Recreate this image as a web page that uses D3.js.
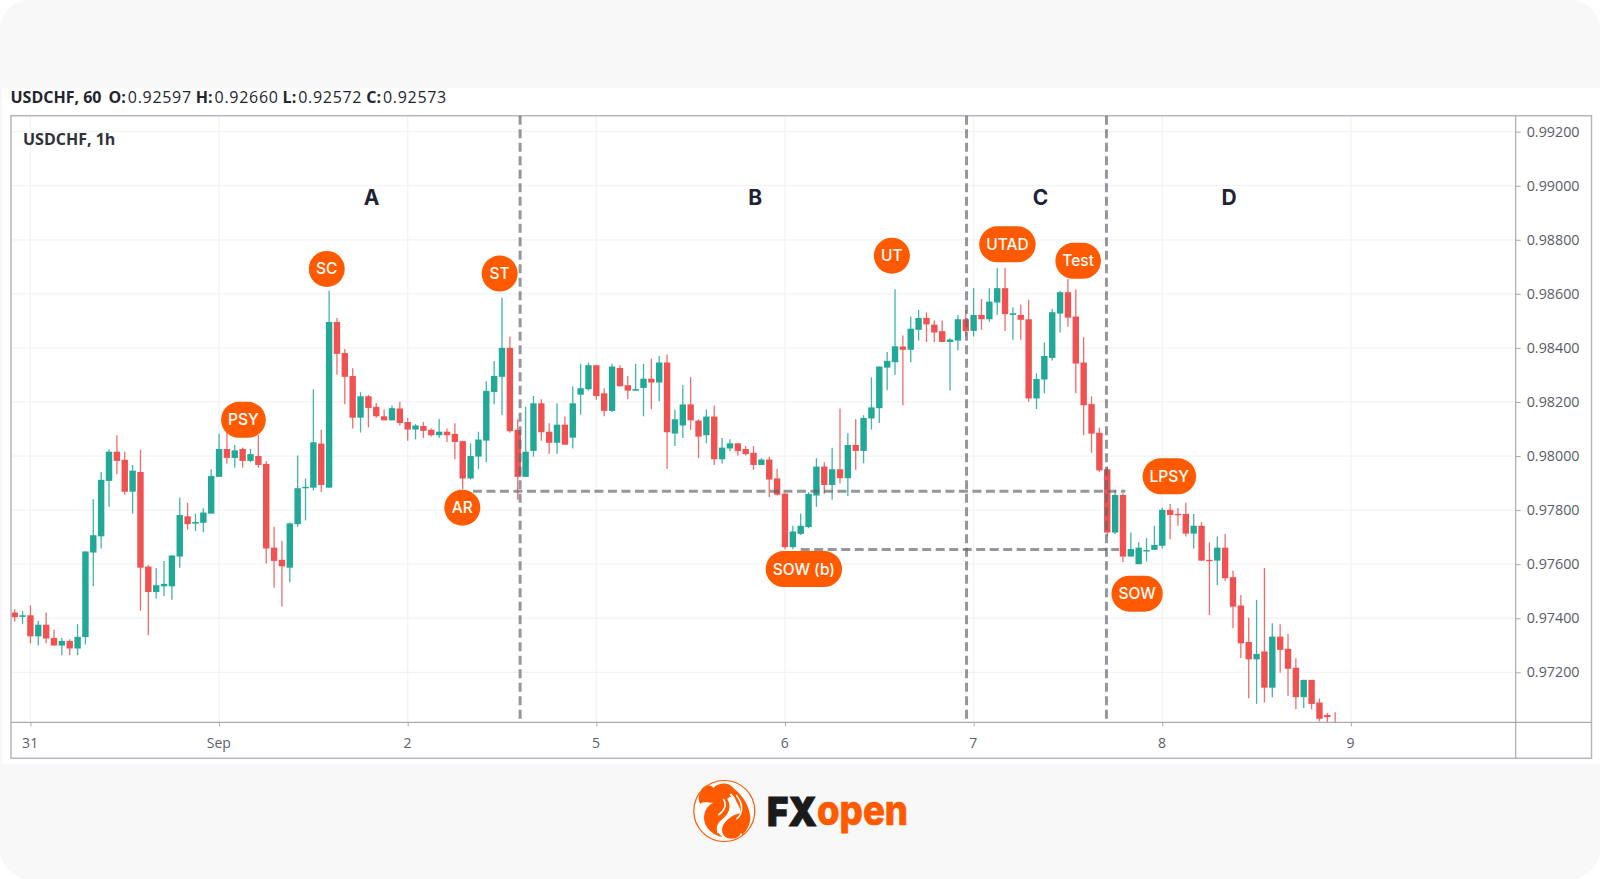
<!DOCTYPE html>
<html><head><meta charset="utf-8">
<script src="https://cdn.jsdelivr.net/npm/d3@7/dist/d3.min.js"></script>
<style>html,body{margin:0;padding:0;background:#fff}svg{display:block}</style></head>
<body><svg id="c" width="1600" height="879"></svg>
<script>
// Prices are in points (1 point = 0.00001)
const opens=[97421,97405,97411,97333,97376,97327,97299,97316,97288,97330,97643,97703,97908,98016,97986,97868,97941,97591,97497,97518,97518,97628,97777,97750,97753,97787,97923,98026,97993,98026,97982,98000,97971,97661,97616,97587,97748,97882,97883,98046,97883,98496,98381,98296,98142,98221,98182,98147,98132,98176,98126,98098,98111,98097,98077,98090,98082,98055,97917,97998,98057,98237,98293,98400,98097,97923,98019,98195,98090,98049,98116,98068,98227,98247,98336,98232,98167,98326,98262,98242,98252,98286,98272,98346,98083,98113,98191,98131,98077,98146,97988,98028,98047,98026,98012,97967,97987,97917,97861,97663,97712,97737,97854,97961,97893,97951,97918,98041,98019,98139,98177,98327,98347,98405,98393,98467,98511,98486,98462,98422,98427,98506,98463,98522,98506,98568,98621,98522,98522,98506,98213,98283,98363,98527,98606,98516,98346,98192,98086,97951,97717,97856,97628,97600,97648,97653,97668,97801,97786,97786,97713,97742,97616,97613,97661,97552,97447,97312,97248,97277,97143,97332,97287,97217,97108,97172,97088,97042,97005];
const highs=[97433,97427,97447,97391,97421,97357,97328,97322,97378,97647,97841,97941,98025,98077,98016,97967,98023,97596,97586,97612,97634,97846,97827,97787,97807,97951,98082,98088,98041,98031,98026,98078,97981,97738,97686,97754,98002,97917,98247,98097,98611,98511,98396,98325,98236,98226,98196,98172,98187,98201,98141,98118,98126,98102,98137,98102,98121,98057,98047,98090,98277,98352,98586,98442,98136,98182,98222,98210,98121,98195,98146,98257,98341,98346,98336,98251,98341,98336,98296,98341,98341,98360,98370,98376,98172,98262,98291,98136,98172,98187,98067,98062,98047,98037,98037,97992,97997,97952,97862,97742,97787,97866,97992,97977,98031,98176,98084,98137,98151,98291,98331,98385,98617,98446,98516,98540,98531,98501,98501,98436,98522,98540,98621,98581,98621,98696,98696,98550,98561,98578,98306,98420,98545,98611,98655,98616,98439,98221,98105,97961,97875,97862,97717,97681,97696,97742,97809,97823,97808,97827,97786,97756,97681,97702,97712,97576,97486,97402,97468,97586,97381,97378,97342,97252,97172,97172,97103,97049,97052];
const lows=[97388,97378,97307,97299,97307,97299,97263,97263,97263,97303,97518,97658,97812,97933,97857,97787,97428,97337,97473,97482,97468,97587,97728,97723,97718,97787,97923,97972,97957,97957,97977,97957,97602,97513,97443,97533,97738,97762,97873,97867,97883,98301,98192,98102,98087,98106,98142,98132,98132,98113,98057,98062,98067,98072,98067,98052,97988,97877,97913,97952,97977,98192,98152,98087,97838,97923,97998,98057,98008,98008,98042,98028,98153,98242,98208,98147,98163,98258,98211,98242,98147,98173,98203,97952,98037,98067,98097,97992,98047,97967,97972,98018,98002,98002,97949,97967,97848,97854,97655,97655,97708,97733,97812,97860,97838,97898,97852,97949,97973,98098,98122,98243,98301,98188,98347,98427,98422,98422,98422,98242,98391,98442,98442,98467,98497,98522,98463,98430,98430,98201,98174,98232,98353,98457,98478,98232,98077,98012,97942,97702,97712,97607,97628,97600,97610,97653,97658,97692,97742,97702,97658,97613,97412,97523,97538,97363,97253,97104,97083,97088,97108,97198,97113,97063,97068,97063,97018,97015,96980];
const closes=[97404,97411,97333,97376,97325,97299,97316,97288,97331,97647,97707,97912,98016,97982,97868,97946,97587,97497,97522,97527,97632,97782,97748,97756,97791,97926,98026,97993,98021,97982,98007,97967,97658,97612,97592,97751,97881,97886,98051,97893,98496,98378,98293,98142,98221,98178,98147,98132,98177,98122,98098,98113,98093,98077,98090,98077,98052,97917,98000,98061,98241,98296,98400,98092,97923,98016,98195,98088,98049,98116,98042,98195,98251,98336,98222,98167,98331,98258,98242,98248,98286,98272,98346,98088,98136,98191,98132,98072,98146,97988,98031,98047,98018,98007,97967,97987,97913,97857,97663,97721,97742,97860,97961,97893,97951,97918,98041,98019,98141,98180,98331,98352,98406,98393,98471,98511,98487,98457,98422,98431,98506,98462,98522,98506,98571,98621,98525,98528,98504,98213,98285,98370,98532,98606,98512,98342,98188,98083,97947,97717,97856,97628,97656,97661,97652,97671,97801,97782,97782,97713,97742,97613,97613,97661,97548,97443,97307,97248,97268,97143,97332,97283,97213,97108,97172,97083,97028,97034,96990];
const dayTickIndex=[2,26,50,74,98,122,146,170];
const dayTickLabels=["31","Sep","2","5","6","7","8","9"];
const priceTicks=[99200,99000,98800,98600,98400,98200,98000,97800,97600,97400,97200];
const phaseNames=["A","B","C","D"];
const phaseIndex=[45.4,94.2,130.5,154.5];
const phasePrice=[98956,98956,98956,98956];
const dividerIndex=[64.3,121.1,138.9];
const levelPrice=[97870,97654];
const levelStart=[58.3,100];
const levelEnd=[141.3,140.5];
const eventNames=["SC","ST","PSY","AR","UT","UTAD","Test","LPSY","SOW","SOW (b)"];
const eventIndex=[39.7,61.7,29.1,56.95,111.6,126.3,135.3,146.9,142.8,100.4];
const eventPrice=[98692,98675,98134,97809,98741,98783,98722,97925,97491,97582];

const GREEN="#22a897",RED="#f05252",ORANGE="#ff5a00";
const L=11,T=115.7,PR=1515.7,FR=1591.5,PB=722.3,FB=758.3;
const pxPerCandle=7.86,xOrigin=14.7;
const x=d3.scaleLinear().domain([0,1]).range([xOrigin,xOrigin+pxPerCandle]);
const y=d3.scaleLinear().domain([97015,99259]).range([PB,T]);
const svg=d3.select("#c");
const defs=svg.append("defs");
defs.append("clipPath").attr("id","plot").append("rect").attr("x",L).attr("y",T).attr("width",PR-L).attr("height",PB-T);

svg.append("rect").attr("width",1600).attr("height",879).attr("rx",30).attr("fill","#f8f8f8");
svg.append("rect").attr("x",2).attr("y",88).attr("width",1598).attr("height",676).attr("fill","#fff");

// grid
const grid=svg.append("g").attr("stroke","#f3f3f5").attr("stroke-width",1.3);
grid.selectAll(".h").data(priceTicks).join("line").attr("x1",L).attr("x2",PR).attr("y1",d=>y(d)).attr("y2",d=>y(d));
grid.selectAll(".v").data(dayTickIndex).join("line").attr("x1",d=>x(d)).attr("x2",d=>x(d)).attr("y1",T).attr("y2",PB);

// axes
const axisFont='"Open Sans",sans-serif';
const yAxis=d3.axisRight(y).tickValues(priceTicks).tickSize(5).tickPadding(6).tickFormat(d=>(d/1e5).toFixed(5));
const gy=svg.append("g").attr("transform",`translate(${PR},0)`).call(yAxis);
gy.select(".domain").remove();
gy.selectAll("line").attr("stroke","#a8aab2");
gy.selectAll("text").attr("font-family",axisFont).attr("font-size",14.3).attr("fill","#5a5d66");
const xAxis=d3.axisBottom(x).tickValues(dayTickIndex).tickSize(4).tickPadding(12).tickFormat((d,i)=>dayTickLabels[i]);
const gx=svg.append("g").attr("transform",`translate(0,${PB})`).call(xAxis);
gx.select(".domain").remove();
gx.selectAll("line").attr("stroke","#a8aab2");
gx.selectAll("text").attr("font-family",axisFont).attr("font-size",14).attr("fill","#5a5d66").attr("dx",-0.8);

// candles
const idx=d3.range(opens.length);
const col=i=>closes[i]>=opens[i]?GREEN:RED;
const candles=svg.append("g").attr("clip-path","url(#plot)").append("g").style("filter","blur(0.35px)");
candles.selectAll(".w").data(idx).join("line").attr("x1",i=>x(i)).attr("x2",i=>x(i))
  .attr("y1",i=>y(highs[i])).attr("y2",i=>y(lows[i])).attr("stroke",col).attr("stroke-width",1.3).attr("stroke-opacity",.85);
candles.selectAll(".b").data(idx).join("rect").attr("x",i=>x(i)-3.2).attr("width",6.4)
  .attr("y",i=>y(Math.max(opens[i],closes[i])))
  .attr("height",i=>Math.max(1.4,Math.abs(y(opens[i])-y(closes[i])))).attr("fill",col);

// frame
const frame="#b4b6be";
svg.append("rect").attr("x",L).attr("y",T).attr("width",FR-L).attr("height",FB-T).attr("fill","none").attr("stroke",frame).attr("stroke-width",1.5);
svg.append("line").attr("x1",L).attr("x2",FR).attr("y1",PB).attr("y2",PB).attr("stroke","#a8aab2").attr("stroke-width",1.2);
svg.append("line").attr("x1",PR).attr("x2",PR).attr("y1",T).attr("y2",FB).attr("stroke","#a8aab2").attr("stroke-width",1.2);

// dashed levels and dividers
const dash=svg.append("g").attr("stroke","#5f616a").attr("stroke-opacity",.66).attr("stroke-width",3).attr("stroke-dasharray","9 4.5");
dash.selectAll(".l").data(levelPrice).join("line").attr("x1",(d,i)=>x(levelStart[i])).attr("x2",(d,i)=>x(levelEnd[i])).attr("y1",d=>y(d)).attr("y2",d=>y(d));
dash.selectAll(".d").data(dividerIndex).join("line").attr("x1",d=>x(d)).attr("x2",d=>x(d)).attr("y1",T).attr("y2",PB);

// phase letters
svg.append("g").selectAll("text").data(phaseNames).join("text")
  .attr("x",(d,i)=>x(phaseIndex[i])).attr("y",(d,i)=>y(phasePrice[i])).attr("text-anchor","middle").attr("dominant-baseline","central")
  .attr("font-family","Inter,sans-serif").attr("font-weight",700).attr("font-size",21).attr("fill","#1e2433").text(d=>d);

// event labels
const ev=svg.append("g").selectAll("g").data(eventNames).join("g")
  .attr("transform",(d,i)=>`translate(${x(eventIndex[i])},${y(eventPrice[i])})`);
ev.append("rect").attr("fill",ORANGE);
ev.append("text").text(d=>d).attr("text-anchor","middle").attr("dominant-baseline","central")
  .attr("font-family","Inter,sans-serif").attr("font-weight",500).attr("font-size",15.5).attr("fill","#fff");
ev.each(function(){
  const g=d3.select(this),w=Math.max(36,g.select("text").node().getComputedTextLength()+14);
  g.select("rect").attr("x",-w/2).attr("y",-18).attr("width",w).attr("height",36).attr("rx",18);
});

// header
const hdrFont='"Open Sans",sans-serif';
const hdr=svg.append("text").attr("x",10.5).attr("y",102.5).attr("font-family",hdrFont).attr("font-size",16).attr("fill","#23262e");
[["USDCHF, 60",700,0,0],["O:",700,7,0],["0.92597",400,2,.7],["H:",700,4,0],["0.92660",400,2,.7],["L:",700,4,0],["0.92572",400,2,.7],["C:",700,4,0],["0.92573",400,2,.7]]
 .forEach(([t,w,dx,ls])=>hdr.append("tspan").attr("font-weight",w).attr("dx",dx).attr("letter-spacing",ls).text(t));
svg.append("text").attr("x",23).attr("y",144.5).attr("font-family",hdrFont).attr("font-weight",700).attr("font-size",16).attr("fill","#2f323a").text("USDCHF, 1h");

// logo
const logo=svg.append("g").attr("transform","translate(724.3,811)");
logo.append("circle").attr("r",30.5).attr("fill","#fff").attr("stroke",ORANGE).attr("stroke-width",1.2);
logo.append("path").attr("fill",ORANGE).attr("d","M-23,-21 C-20,-27 -14,-27 -11,-23 C-6,-28 4,-30 10,-22 C20,-14 25,-4 26,6 C26,14 22,20 18,24 L14,16 C17,10 18,2 14,-6 C10,-14 6,-16 3,-12 C8,-4 4,4 -3,9 C-9,14 -9,20 -2,26 C-13,24 -22,14 -20,4 C-19,-3 -14,-7 -11,-8 C-16,-8 -21,-10 -24,-7 C-27,-12 -25,-18 -23,-21 Z");
logo.append("path").attr("fill",ORANGE).attr("d","M1,26 C-5,20 -2,13 4,8 C7,5 12,3 16,2 C20,1 23,4 25,8 L21,14 L15,25 C10,29 5,28 1,26 Z");
logo.append("path").attr("fill","none").attr("stroke","#fff").attr("stroke-width",2.2).attr("d","M6,-17 C15,-8 12,2 4,6 C-2,10 -8,14 -6,22");
logo.append("path").attr("fill","none").attr("stroke","#fff").attr("stroke-width",1.6).attr("d","M12,-16 C20,-6 18,4 12,8 M-1,-12 C3,-6 0,0 -6,4");
svg.append("text").attr("x",767).attr("y",826).attr("font-family","Inter,sans-serif").attr("font-weight",900).attr("font-size",40).attr("fill","#1a1a1a").attr("stroke","#1a1a1a").attr("stroke-width",.9).attr("textLength",50).attr("lengthAdjust","spacingAndGlyphs").text("FX");
svg.append("text").attr("x",817).attr("y",824.5).attr("font-family","Inter,sans-serif").attr("font-weight",800).attr("font-size",41).attr("fill",ORANGE).attr("stroke",ORANGE).attr("stroke-width",.7).attr("textLength",91).attr("lengthAdjust","spacingAndGlyphs").text("open");
</script></body></html>
